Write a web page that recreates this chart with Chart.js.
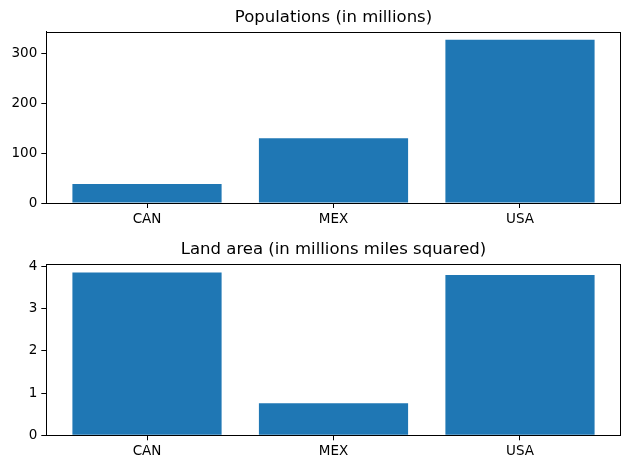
<!DOCTYPE html>
<html>
<head>
<meta charset="utf-8">
<script src="https://cdn.jsdelivr.net/npm/chart.js@4/dist/chart.umd.min.js"></script>
<style>
  body { margin: 0; background: #fff; }
  .wrap { position: relative; width: 630px; }
  canvas { display: block; }
</style>
</head>
<body>
<div class="wrap">
  <div style="width:630px;height:230px"><canvas id="popChart"></canvas></div>
  <div style="width:630px;height:239px"><canvas id="areaChart"></canvas></div>
</div>
<script>
const countries = ["CAN", "MEX", "USA"];
const population = [38, 130, 327];
const landArea = [3.86, 0.76, 3.8];
const popTicks = [0, 100, 200, 300];
const areaTicks = [0, 1, 2, 3, 4];

const barColor = "#1f77b4";
const fontFamily = "'DejaVu Sans', sans-serif";

// box around the plot area plus a title centred over it (like matplotlib)
const frameAndTitle = {
  id: "frameAndTitle",
  afterDraw(chart, args, opts) {
    const { ctx, chartArea } = chart;
    ctx.save();
    ctx.strokeStyle = "#000";
    ctx.lineWidth = 1;
    ctx.strokeRect(Math.round(chartArea.left) + 0.5, Math.round(chartArea.top) + 0.5,
      Math.round(chartArea.right - chartArea.left), Math.round(chartArea.bottom - chartArea.top));
    ctx.fillStyle = "#000";
    ctx.font = "16.5px " + fontFamily;
    ctx.textAlign = "center";
    ctx.textBaseline = "middle";
    ctx.fillText(opts.text, (chartArea.left + chartArea.right) / 2, opts.y);
    ctx.restore();
  }
};

function makeChart(id, values, yTicks, title, titleY, padding) {
  const yMax = Math.max(...values) * 1.05;
  return new Chart(document.getElementById(id), {
    type: "bar",
    data: {
      datasets: [{
        data: values.map((v, i) => ({ x: i, y: v })),
        backgroundColor: barColor,
        borderWidth: 0,
        inflateAmount: 0,
        barPercentage: 0.8,
        categoryPercentage: 1
      }]
    },
    options: {
      responsive: true,
      maintainAspectRatio: false,
      animation: false,
      layout: { padding: padding },
      plugins: {
        legend: { display: false },
        tooltip: { enabled: false },
        frameAndTitle: { text: title, y: titleY }
      },
      scales: {
        x: {
          type: "linear",
          min: -0.54,
          max: 2.54,
          offset: false,
          afterBuildTicks: (s) => { s.ticks = countries.map((c, i) => ({ value: i })); },
          afterFit: (s) => { s.height = 27; },
          ticks: {
            callback: (v) => countries[v],
            color: "#000",
            font: { family: fontFamily, size: 13.5 },
            padding: 3,
            maxRotation: 0,
            autoSkip: false
          },
          grid: { offset: false, drawOnChartArea: false, drawTicks: true, tickLength: 5, color: "#000" },
          border: { display: true, color: "#000" }
        },
        y: {
          min: 0,
          max: yMax,
          afterBuildTicks: (s) => { s.ticks = yTicks.map(v => ({ value: v })); },
          afterFit: (s) => { s.width = 41; },
          ticks: {
            color: "#000",
            font: { family: fontFamily, size: 13.5 },
            padding: 4
          },
          grid: { drawOnChartArea: false, drawTicks: true, tickLength: 5, color: "#000" },
          border: { display: true, color: "#000" }
        }
      }
    },
    plugins: [frameAndTitle]
  });
}

makeChart("popChart", population, popTicks, "Populations (in millions)", 18,
  { left: 5.3, right: 9.3, top: 31.7, bottom: 0 });
makeChart("areaChart", landArea, areaTicks, "Land area (in millions miles squared)", 20,
  { left: 5.3, right: 9.3, top: 34.3, bottom: 6.7 });
</script>
</body>
</html>
